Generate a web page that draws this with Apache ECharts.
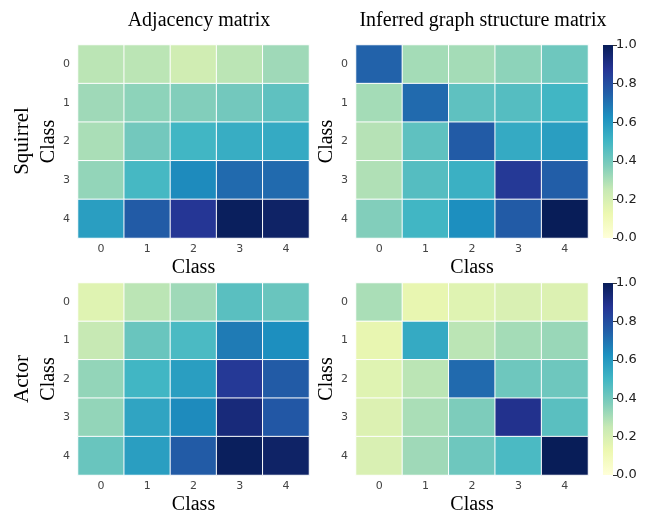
<!DOCTYPE html>
<html><head><meta charset="utf-8">
<script src="https://cdn.jsdelivr.net/npm/echarts@6/dist/echarts.min.js"></script>
<style>html,body{margin:0;padding:0;background:#fff}#c{width:652px;height:516px}</style>
</head><body><div id="c"></div>
<script>
const classes = ['0','1','2','3','4'];
const colorbarTicks = [0, 0.2, 0.4, 0.6, 0.8, 1.0];
const colorbarRange = [0, 1];
const titles = ['Adjacency matrix', 'Inferred graph structure matrix'];
const rowNames = ['Squirrel', 'Actor'];
const squirrelAdj = [
  [0.27,0.27,0.22,0.27,0.32],
  [0.32,0.35,0.37,0.40,0.44],
  [0.30,0.40,0.50,0.53,0.54],
  [0.34,0.49,0.64,0.72,0.72],
  [0.58,0.76,0.87,0.99,0.97]
];
const squirrelInf = [
  [0.74,0.31,0.31,0.35,0.41],
  [0.31,0.72,0.44,0.46,0.50],
  [0.28,0.44,0.76,0.54,0.58],
  [0.29,0.46,0.52,0.86,0.75],
  [0.37,0.50,0.63,0.76,1.00]
];
const actorAdj = [
  [0.17,0.27,0.32,0.45,0.42],
  [0.25,0.42,0.48,0.68,0.63],
  [0.34,0.50,0.58,0.86,0.76],
  [0.34,0.56,0.64,0.93,0.77],
  [0.42,0.58,0.76,0.99,0.97]
];
const actorInf = [
  [0.30,0.14,0.17,0.19,0.18],
  [0.14,0.54,0.27,0.31,0.33],
  [0.17,0.27,0.72,0.41,0.41],
  [0.18,0.30,0.38,0.89,0.45],
  [0.19,0.32,0.41,0.48,1.00]
];
const YlGnBu = ['#ffffd9','#edf8b1','#c7e9b4','#7fcdbb','#41b6c4','#1d91c0','#225ea8','#253494','#081d58'];

function toCells(m){const d=[];m.forEach((row,r)=>row.forEach((v,c)=>d.push([c,r,v])));return d;}
const mats=[squirrelAdj,squirrelInf,actorAdj,actorInf];
const serif='"Liberation Serif","DejaVu Serif",serif';
const sans='"DejaVu Sans",sans-serif';
const grids=[
  {left:78,top:45,width:231,height:193},
  {left:356,top:45,width:232,height:193},
  {left:78,top:283,width:231,height:192},
  {left:356,top:283,width:232,height:192},
  {left:603,top:45,width:10,height:193},
  {left:603,top:283,width:10,height:192}
];
const xAxes=[],yAxes=[],series=[];
for(let i=0;i<4;i++){
  xAxes.push({type:'category',gridIndex:i,data:classes,name:'Class',nameLocation:'middle',nameGap:20,
    nameTextStyle:{fontFamily:serif,fontSize:20,color:'#000'},
    axisLine:{show:false},axisTick:{show:false},splitArea:{show:false},
    axisLabel:{fontFamily:sans,fontSize:11,color:'#444',margin:6}});
  yAxes.push({type:'category',gridIndex:i,data:classes,inverse:true,name:'Class',nameLocation:'middle',nameGap:12,
    nameTextStyle:{fontFamily:serif,fontSize:20,color:'#000'},
    axisLine:{show:false},axisTick:{show:false},
    axisLabel:{fontFamily:sans,fontSize:11,color:'#444',margin:8}});
  series.push({type:'heatmap',xAxisIndex:i,yAxisIndex:i,data:toCells(mats[i]),
    itemStyle:{borderColor:'#fff',borderWidth:1},emphasis:{disabled:true}});
}
const grad={type:'linear',x:0,y:1,x2:0,y2:0,colorStops:YlGnBu.map((c,k)=>({offset:k/(YlGnBu.length-1),color:c}))};
for(let j=0;j<2;j++){
  const gi=4+j;
  xAxes.push({type:'category',gridIndex:gi,data:['cb'],show:false});
  yAxes.push({type:'value',gridIndex:gi,min:colorbarRange[0],max:colorbarRange[1],interval:0.2,position:'right',
    axisLine:{show:false},splitLine:{show:false},
    axisTick:{show:true,length:4,lineStyle:{color:'#333'}},
    axisLabel:{fontFamily:sans,fontSize:13,color:'#222',margin:3,formatter:v=>v.toFixed(1)}});
  series.push({type:'bar',xAxisIndex:gi,yAxisIndex:gi,data:[colorbarRange[1]],barWidth:'100%',
    itemStyle:{color:grad},silent:true});
}
const option={
  animation:false,
  grid:grids,
  xAxis:xAxes,yAxis:yAxes,
  visualMap:{show:false,seriesIndex:[0,1,2,3],min:0,max:1,inRange:{color:YlGnBu}},
  title:[
    {text:titles[0],left:194,top:6,textAlign:'center',textStyle:{fontFamily:serif,fontSize:20,fontWeight:'normal',color:'#000'}},
    {text:titles[1],left:478,top:6,textAlign:'center',textStyle:{fontFamily:serif,fontSize:20,fontWeight:'normal',color:'#000'}}
  ],
  graphic:[
    {type:'text',x:22,y:141,rotation:Math.PI/2,style:{text:rowNames[0],font:'21px '+serif,fill:'#000',textAlign:'center',textVerticalAlign:'middle'}},
    {type:'text',x:22,y:379,rotation:Math.PI/2,style:{text:rowNames[1],font:'21px '+serif,fill:'#000',textAlign:'center',textVerticalAlign:'middle'}}
  ],
  series:series
};
const chart=echarts.init(document.getElementById('c'),null,{renderer:'canvas'});
chart.setOption(option);
</script></body></html>
